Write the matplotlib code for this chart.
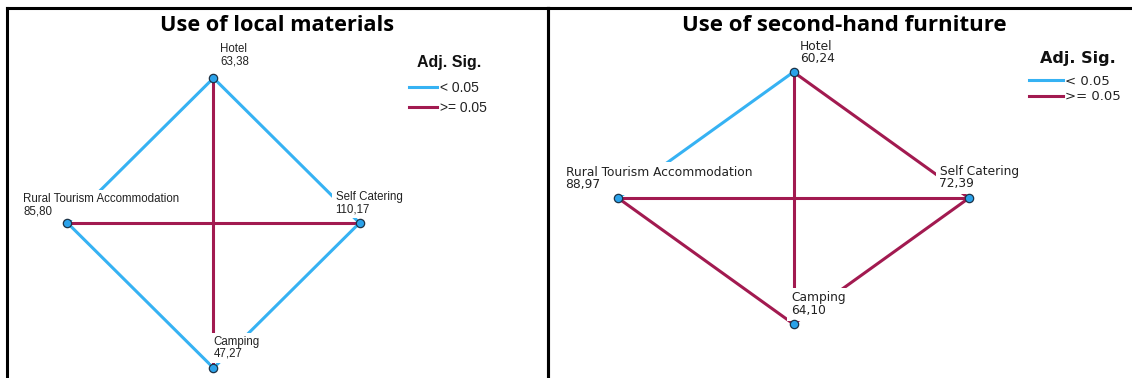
import matplotlib
matplotlib.use("Agg")
import matplotlib.pyplot as plt
from matplotlib.lines import Line2D

# ── Données ───────────────────────────────────────────────────────────────────
GROUPS = ["Hotel", "Rural Tourism Accommodation", "Self Catering", "Camping"]
RANKS_LOCAL = [63.38, 85.80, 110.17, 47.27]
RANKS_FURNITURE = [60.24, 88.97, 72.39, 64.10]

# paires (i, j) testées et significativité ajustée (< 0.05)
PAIRS = [(0, 1), (0, 2), (0, 3), (1, 2), (1, 3), (2, 3)]
SIG_LOCAL = [True, True, False, False, True, True]
SIG_FURNITURE = [True, False, False, False, False, False]

TITLES = ["Use of local materials", "Use of second-hand furniture"]
LEGEND_LABELS = ["< 0.05", ">= 0.05"]

# disposition en losange (réseau SPSS)
NODE_X = [0, -1, 1, 0]
NODE_Y = [1, 0, 0, -1]

# ── Style ────────────────────────────────────────────────────────────────────
BLUE = "#36b2f3"
RED = "#a21a50"
NODE_FILL = "#2ba2ea"
NODE_EDGE = "#1d3347"
W, H = 1132, 378

# panneaux : cellule (pixels), centre/demi-axes du losange, polices, offsets
PANELS = [
    dict(cell=(7, 548), center=(213.5, 223), half=(146, 145),
         font="Liberation Sans", fs=8.3, title_fs=15.7, title_x=277,
         offsets=[(7, 11), (-44, 6), (-24, 8), (0, 8)],
         leg_title=(449, 63), leg_fs=10, leg_title_fs=11.5,
         leg_anchor=(409, 81), leg_hl=2.05, leg_tp=0.18, leg_ls=0.45),
    dict(cell=(548, 1132), center=(793.5, 198), half=(175.5, 126),
         font="DejaVu Sans", fs=8.8, title_fs=16, title_x=844,
         offsets=[(6.5, 7), (-52.5, 7), (-29.5, 8), (-2.5, 7)],
         leg_title=(1078, 59), leg_fs=9.5, leg_title_fs=11.5,
         leg_anchor=(1029, 75), leg_hl=2.58, leg_tp=0.15, leg_ls=0.18),
]


def _fmt(v):
    return f"{v:.2f}".replace(".", ",")


def _draw_panel(fig, ax, p, ranks, sig, title, show_right):
    x0, x1 = p["cell"]
    cx, cy = p["center"]
    hw, hh = p["half"]
    ax.set_xlim((x0 - cx) / hw, (x1 - cx) / hw)
    ax.set_ylim((cy - H) / hh, (cy - 8) / hh)
    ax.set_xticks([])
    ax.set_yticks([])
    for s in ax.spines.values():
        s.set_linewidth(2.2)
        s.set_color("black")
    ax.spines["bottom"].set_visible(False)
    if not show_right:
        ax.spines["right"].set_visible(False)

    for (i, j), s in zip(PAIRS, sig):
        ax.plot([NODE_X[i], NODE_X[j]], [NODE_Y[i], NODE_Y[j]],
                color=BLUE if s else RED, linewidth=2.2,
                solid_capstyle="butt", zorder=2)

    for k, (name, r) in enumerate(zip(GROUPS, ranks)):
        ax.annotate(f"{name}\n{_fmt(r)}", (NODE_X[k], NODE_Y[k]),
                    xytext=p["offsets"][k], textcoords="offset pixels",
                    ha="left", va="bottom", fontsize=p["fs"],
                    family=p["font"], color="#222222", linespacing=0.95,
                    bbox=dict(boxstyle="square,pad=0.3", fc="white", ec="none"),
                    zorder=3)

    ax.plot(NODE_X, NODE_Y, "o", markersize=6, markerfacecolor=NODE_FILL,
            markeredgecolor=NODE_EDGE, markeredgewidth=0.9, linestyle="none",
            zorder=4)

    fig.text(p["title_x"] / W, 1 - 25.5 / H, title, ha="center", va="center",
             fontsize=p["title_fs"], family="Open Sans", fontweight="bold",
             color="black")

    tx, ty = p["leg_title"]
    fig.text(tx / W, 1 - ty / H, "Adj. Sig.", ha="center", va="center",
             fontsize=p["leg_title_fs"], family=p["font"], fontweight="bold",
             color="#111111")

    handles = [Line2D([], [], color=BLUE, linewidth=2.2),
               Line2D([], [], color=RED, linewidth=2.2)]
    lx, ly = p["leg_anchor"]
    ax.legend(handles, LEGEND_LABELS, loc="upper left",
              bbox_to_anchor=(lx / W, 1 - ly / H), bbox_transform=fig.transFigure,
              frameon=False, borderpad=0, borderaxespad=0,
              handlelength=p["leg_hl"], handletextpad=p["leg_tp"],
              labelspacing=p["leg_ls"],
              prop=dict(family=p["font"], size=p["leg_fs"]),
              labelcolor="#222222")


def main():
    fig = plt.figure(figsize=(W / 100, H / 100), dpi=100)
    fig.patch.set_facecolor("white")

    data = [(RANKS_LOCAL, SIG_LOCAL), (RANKS_FURNITURE, SIG_FURNITURE)]
    for idx, (p, (ranks, sig)) in enumerate(zip(PANELS, data)):
        x0, x1 = p["cell"]
        ax = fig.add_axes([x0 / W, 0, (x1 - x0) / W, (H - 8) / H])
        ax.set_facecolor("none")
        _draw_panel(fig, ax, p, ranks, sig, TITLES[idx], show_right=(idx == 0))

    fig.savefig("out.png", dpi=100, facecolor="white")
    plt.close(fig)


if __name__ == "__main__":
    main()
